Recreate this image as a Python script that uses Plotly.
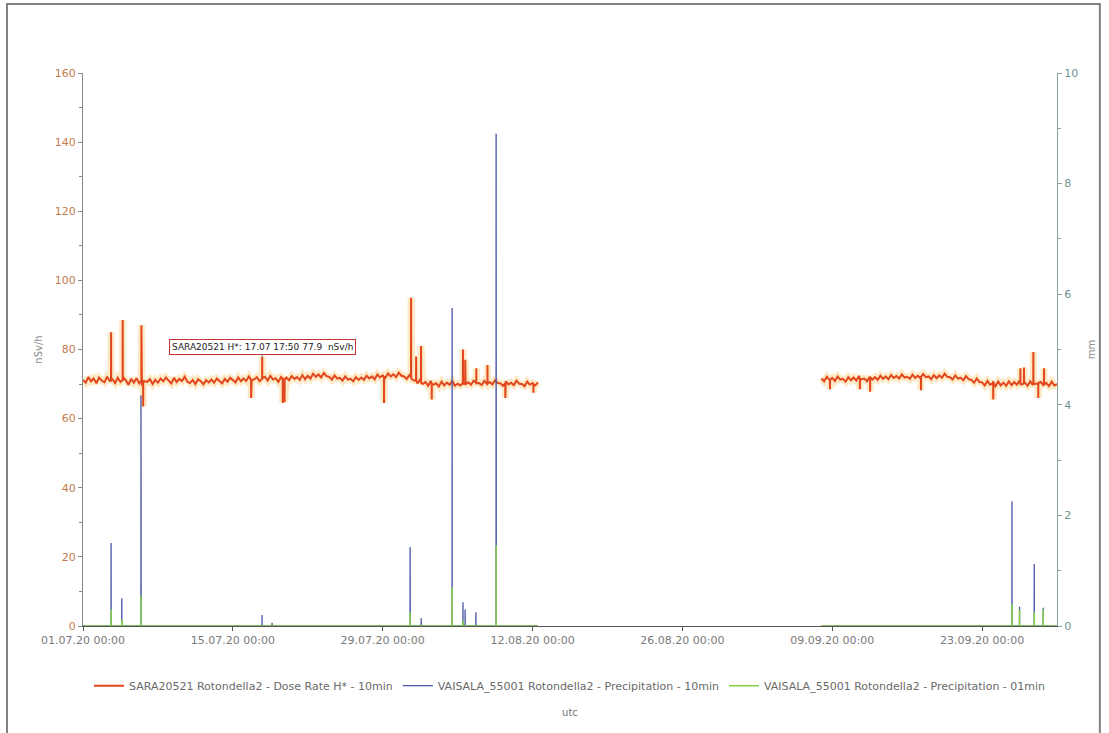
import plotly.graph_objects as go
import pandas as pd

# ---------------- data ----------------
# Dose rate H* (nSv/h), 6-hourly readings, segment 1 starts 2020-07-01 00:00
dose_seg1_start = "2020-07-01 00:00"
dose_seg1 = [
    71.2, 70.4, 72.0, 70.8,  71.6, 70.2, 71.9, 71.0,  70.5, 72.1, 70.9, 71.4,
    70.3, 71.8, 70.6, 72.0,  71.1, 69.8, 71.5, 70.4,  71.7, 70.2, 69.5, 70.8,
    70.6, 71.4, 70.0, 71.2,  70.4, 71.6, 70.8, 71.9,  71.0, 70.2, 71.8, 70.6,
    71.5, 70.9, 72.1, 70.7,  70.3, 71.2, 70.0, 71.4,  70.8, 69.9, 71.1, 70.5,
    71.3, 70.4, 71.6, 70.9,  70.2, 71.5, 70.7, 71.8,  71.2, 70.5, 71.9, 70.8,
    71.6, 70.9, 72.2, 71.0,  71.4, 72.0, 70.8, 71.7,  72.1, 71.0, 72.4, 71.3,
    71.7, 70.6, 72.0, 71.2,  71.9, 71.1, 72.3, 71.5,  72.0, 71.2, 72.6, 71.4,
    72.4, 71.6, 73.0, 72.1,  72.8, 71.9, 73.2, 72.3,  72.1, 71.3, 72.5, 71.6,
    71.8, 71.0, 72.2, 71.3,  71.5, 70.8, 72.0, 71.2,  71.9, 71.2, 72.4, 71.6,
    72.2, 71.4, 72.8, 71.9,  72.5, 71.8, 73.1, 72.2,  72.8, 72.0, 73.3, 72.4,
    72.2, 71.5, 72.6, 71.3,  71.0, 70.2, 71.4, 70.0,  70.6, 69.5, 70.9, 69.8,
    70.2, 69.3, 70.7, 69.6,  70.4, 69.8, 70.9, 69.5,  70.1, 69.6, 70.8, 69.9,
    70.5, 69.8, 71.0, 70.2,  70.3, 69.7, 70.9, 70.0,  70.6, 69.9, 71.1, 70.3,
    70.2, 69.5, 70.8, 69.9,  70.4, 69.7, 71.0, 70.1,  70.0, 69.4, 70.7, 69.8,
    70.3, 69.6, 70.5,
]
# segment 2 starts 2020-09-08 00:00
dose_seg2_start = "2020-09-08 00:00"
dose_seg2 = [
    71.6, 70.8, 72.1, 71.2,  71.8, 70.9, 72.2, 71.3,  71.5, 70.7, 72.0, 71.1,
    71.9, 71.0, 72.3, 71.4,  71.6, 70.8, 72.1, 71.3,  72.0, 71.2, 72.4, 71.5,
    72.2, 71.4, 72.6, 71.8,  72.3, 71.6, 72.8, 71.9,  72.1, 71.5, 72.7, 71.8,
    72.4, 71.7, 72.9, 72.0,  72.2, 71.4, 72.6, 71.7,  72.5, 71.8, 73.0, 72.1,
    72.0, 71.3, 72.5, 71.6,  71.8, 71.1, 72.3, 71.4,  71.2, 70.4, 71.6, 70.6,
    70.5, 69.6, 70.9, 69.8,  70.2, 69.4, 70.7, 69.6,  70.4, 69.5, 70.8, 69.7,
    70.6, 69.8, 71.0, 69.9,  70.4, 69.5, 70.8, 69.7,  70.1, 69.3, 70.6, 69.5,
    70.3, 69.4, 70.7, 69.6,  70.0,
]
# short dose-rate excursions (10-min readings incl. neighbouring readings)
dose_spike_time = [
    "2020-07-03 14:50", "2020-07-03 15:00", "2020-07-03 15:10",
    "2020-07-04 16:50", "2020-07-04 17:00", "2020-07-04 17:10",
    "2020-07-06 10:50", "2020-07-06 11:00", "2020-07-06 11:10",
    "2020-07-06 14:50", "2020-07-06 15:00", "2020-07-06 15:10",
    "2020-07-16 16:50", "2020-07-16 17:00", "2020-07-16 17:10",
    "2020-07-17 17:40", "2020-07-17 17:50", "2020-07-17 18:00",
    "2020-07-19 15:50", "2020-07-19 16:00", "2020-07-19 16:10",
    "2020-07-19 19:50", "2020-07-19 20:00", "2020-07-19 20:10",
    "2020-07-29 02:50", "2020-07-29 03:00", "2020-07-29 03:10",
    "2020-07-31 15:30", "2020-07-31 15:40", "2020-07-31 15:50",
    "2020-08-01 02:50", "2020-08-01 03:00", "2020-08-01 03:10",
    "2020-08-01 13:50", "2020-08-01 14:00", "2020-08-01 14:10",
    "2020-08-02 13:50", "2020-08-02 14:00", "2020-08-02 14:10",
    "2020-08-05 11:50", "2020-08-05 12:00", "2020-08-05 12:10",
    "2020-08-05 16:50", "2020-08-05 17:00", "2020-08-05 17:10",
    "2020-08-06 17:50", "2020-08-06 18:00", "2020-08-06 18:10",
    "2020-08-07 18:50", "2020-08-07 19:00", "2020-08-07 19:10",
    "2020-08-09 10:50", "2020-08-09 11:00", "2020-08-09 11:10",
    "2020-08-12 01:50", "2020-08-12 02:00", "2020-08-12 02:10",
    "2020-09-08 18:50", "2020-09-08 19:00", "2020-09-08 19:10",
    "2020-09-11 13:50", "2020-09-11 14:00", "2020-09-11 14:10",
    "2020-09-12 12:50", "2020-09-12 13:00", "2020-09-12 13:10",
    "2020-09-17 06:50", "2020-09-17 07:00", "2020-09-17 07:10",
    "2020-09-24 00:50", "2020-09-24 01:00", "2020-09-24 01:10",
    "2020-09-26 13:50", "2020-09-26 14:00", "2020-09-26 14:10",
    "2020-09-26 21:50", "2020-09-26 22:00", "2020-09-26 22:10",
    "2020-09-27 18:50", "2020-09-27 19:00", "2020-09-27 19:10",
    "2020-09-28 05:50", "2020-09-28 06:00", "2020-09-28 06:10",
    "2020-09-28 18:50", "2020-09-28 19:00", "2020-09-28 19:10",
]
dose_spike_val = [
    71.0, 85.0, 71.3,
    71.2, 88.5, 70.9,
    71.1, 87.0, 70.8,
    70.6, 63.5, 70.9,
    71.2, 66.0, 71.0,
    71.5, 77.9, 71.3,
    71.6, 64.5, 71.4,
    71.5, 64.8, 71.2,
    72.0, 64.5, 72.2,
    72.1, 95.0, 71.8,
    71.2, 78.0, 71.0,
    70.6, 81.0, 70.4,
    70.2, 65.5, 70.0,
    70.3, 80.0, 70.1,
    70.0, 77.0, 70.2,
    70.4, 74.6, 70.2,
    70.3, 75.5, 70.1,
    70.2, 66.0, 70.0,
    70.0, 67.5, 69.9,
    71.5, 68.5, 71.2,
    71.7, 68.5, 71.5,
    71.8, 67.8, 72.0,
    72.3, 68.2, 72.1,
    70.8, 65.5, 70.5,
    70.2, 74.6, 70.0,
    70.3, 74.8, 70.1,
    70.2, 79.3, 70.0,
    70.1, 66.0, 70.3,
    70.2, 74.6, 70.0,
]

# Precipitation 10 min (mm)
precip10_time = [
    "2020-07-01 00:00",
    "2020-07-03 14:50", "2020-07-03 15:00", "2020-07-03 15:10",
    "2020-07-04 14:50", "2020-07-04 15:00", "2020-07-04 15:10",
    "2020-07-06 09:50", "2020-07-06 10:00", "2020-07-06 10:10", "2020-07-06 10:20",
    "2020-07-17 17:20", "2020-07-17 17:30", "2020-07-17 17:40",
    "2020-07-18 15:50", "2020-07-18 16:00", "2020-07-18 16:10",
    "2020-07-31 13:20", "2020-07-31 13:30", "2020-07-31 13:40", "2020-07-31 13:50",
    "2020-08-01 14:10", "2020-08-01 14:20", "2020-08-01 14:30",
    "2020-08-04 11:30", "2020-08-04 11:40", "2020-08-04 11:50",
    "2020-08-05 11:50", "2020-08-05 12:00", "2020-08-05 12:10",
    "2020-08-05 16:40", "2020-08-05 16:50", "2020-08-05 17:00",
    "2020-08-06 16:50", "2020-08-06 17:00", "2020-08-06 17:10",
    "2020-08-08 14:10", "2020-08-08 14:20", "2020-08-08 14:30", "2020-08-08 14:40",
    "2020-08-12 12:00",
    "2020-08-25 00:00",
    "2020-09-08 00:00",
    "2020-09-25 18:50", "2020-09-25 19:00", "2020-09-25 19:10",
    "2020-09-26 11:50", "2020-09-26 12:00", "2020-09-26 12:10",
    "2020-09-27 20:50", "2020-09-27 21:00", "2020-09-27 21:10",
    "2020-09-28 16:50", "2020-09-28 17:00", "2020-09-28 17:10",
    "2020-09-30 00:00",
]
precip10_mm = [
    0,
    0, 1.5, 0,
    0, 0.5, 0,
    0, 4.17, 2.1, 0,
    0, 0.2, 0,
    0, 0.06, 0,
    0, 1.43, 0.83, 0,
    0, 0.14, 0,
    0, 5.75, 0,
    0, 0.43, 0,
    0, 0.3, 0,
    0, 0.25, 0,
    0, 8.9, 6.7, 0,
    0,
    None,
    0,
    0, 2.25, 0,
    0, 0.35, 0,
    0, 1.12, 0,
    0, 0.33, 0,
    0,
]

# Precipitation 01 min (mm)
precip01_time = [
    "2020-07-01 00:00",
    "2020-07-03 15:01", "2020-07-03 15:02", "2020-07-03 15:03",
    "2020-07-04 15:02", "2020-07-04 15:03", "2020-07-04 15:04",
    "2020-07-06 10:04", "2020-07-06 10:05", "2020-07-06 10:06",
    "2020-07-31 13:32", "2020-07-31 13:33", "2020-07-31 13:34",
    "2020-08-04 11:43", "2020-08-04 11:44", "2020-08-04 11:45",
    "2020-08-05 12:03", "2020-08-05 12:04", "2020-08-05 12:05",
    "2020-08-08 14:23", "2020-08-08 14:24", "2020-08-08 14:25",
    "2020-08-12 12:00",
    "2020-08-25 00:00",
    "2020-09-08 00:00",
    "2020-09-25 19:03", "2020-09-25 19:04", "2020-09-25 19:05",
    "2020-09-26 12:03", "2020-09-26 12:04", "2020-09-26 12:05",
    "2020-09-27 21:03", "2020-09-27 21:04", "2020-09-27 21:05",
    "2020-09-28 17:03", "2020-09-28 17:04", "2020-09-28 17:05",
    "2020-09-30 00:00",
]
precip01_mm = [
    0,
    0, 0.3, 0,
    0, 0.12, 0,
    0, 0.55, 0,
    0, 0.25, 0,
    0, 0.7, 0,
    0, 0.1, 0,
    0, 1.46, 0,
    0,
    None,
    0,
    0, 0.4, 0,
    0, 0.3, 0,
    0, 0.25, 0,
    0, 0.3, 0,
    0,
]

series_names = [
    "SARA20521 Rotondella2 - Dose Rate H* - 10min",
    "VAISALA_55001 Rotondella2 - Precipitation - 10min",
    "VAISALA_55001 Rotondella2 - Precipitation - 01min",
]
x_range = ["2020-07-01 00:00", "2020-09-30 00:00"]
annot_time = "2020-07-17 17:50"
annot_val = 77.9
annot_text = "SARA20521 H*: 17.07 17:50 77.9\u00a0\u00a0nSv/h"

# ---------------- build dose series ----------------
t1 = pd.date_range(dose_seg1_start, periods=len(dose_seg1), freq="6h")
t2 = pd.date_range(dose_seg2_start, periods=len(dose_seg2), freq="6h")
df = pd.concat([
    pd.DataFrame({"t": t1, "v": dose_seg1}),
    pd.DataFrame({"t": t2, "v": dose_seg2}),
    pd.DataFrame({"t": pd.to_datetime(dose_spike_time), "v": dose_spike_val}),
]).sort_values("t").reset_index(drop=True)
gap = pd.DataFrame({"t": [pd.Timestamp("2020-08-25")], "v": [None]})
df = pd.concat([df, gap]).sort_values("t").reset_index(drop=True)

FONT = "DejaVu Sans"
C_DOSE = "#e2461c"
C_P10 = "#4a55a8"
C_P01 = "#86d24a"

fig = go.Figure()
fig.add_trace(go.Scatter(x=df["t"], y=df["v"], mode="lines",
                         line=dict(color="rgba(250,200,110,0.4)", width=7),
                         showlegend=False, hoverinfo="skip", yaxis="y",
                         connectgaps=False))
fig.add_trace(go.Scatter(x=df["t"], y=df["v"], mode="lines", name=series_names[0],
                         line=dict(color=C_DOSE, width=2), yaxis="y",
                         connectgaps=False))
fig.add_trace(go.Scatter(x=pd.to_datetime(precip10_time), y=precip10_mm, mode="lines",
                         name=series_names[1], line=dict(color=C_P10, width=1.3),
                         yaxis="y2", connectgaps=False))
fig.add_trace(go.Scatter(x=pd.to_datetime(precip01_time), y=precip01_mm, mode="lines",
                         name=series_names[2], line=dict(color=C_P01, width=1.5),
                         yaxis="y2", connectgaps=False))

fig.update_layout(
    width=1109, height=733,
    margin=dict(l=83, r=52, t=73, b=107, autoexpand=False),
    paper_bgcolor="white", plot_bgcolor="white",
    font=dict(family=FONT, size=11, color="#777"),
    xaxis=dict(
        type="date", range=x_range,
        tick0="2020-07-01", dtick=14 * 86400000,
        tickformat="%d.%m.%y %H:%M",
        showgrid=False, zeroline=False,
        showline=True, linecolor="#555", linewidth=1,
        ticks="outside", ticklen=4, tickcolor="#555",
        tickfont=dict(size=11, color="#7a7a7a"),
        title=dict(text="utc", standoff=62, font=dict(size=10, color="#777")),
        automargin=False, layer="below traces",
    ),
    yaxis=dict(
        range=[0, 160], dtick=20, showgrid=False, zeroline=False,
        showline=True, linecolor="#8a8a8a", linewidth=1,
        ticks="outside", ticklen=4, tickcolor="#8a8a8a",
        minor=dict(dtick=10, ticks="outside", ticklen=3, tickcolor="#8a8a8a"),
        tickfont=dict(size=11, color="#c47a4e"),
        title=dict(text="nSv/h", standoff=10, font=dict(size=10, color="#888")),
        automargin=False,
    ),
    yaxis2=dict(
        range=[0, 10], dtick=2, overlaying="y", side="right",
        showgrid=False, zeroline=False,
        showline=True, linecolor="#8aa0a0", linewidth=1,
        ticks="outside", ticklen=4, tickcolor="#8aa0a0",
        minor=dict(dtick=1, ticks="outside", ticklen=3, tickcolor="#8aa0a0"),
        tickfont=dict(size=11, color="#6e9494"),
        title=dict(text="mm", standoff=10, font=dict(size=10, color="#888")),
        automargin=False,
    ),
    legend=dict(orientation="h", x=0.5, xanchor="center", y=-0.108, yanchor="middle",
                font=dict(size=11, color="#6a6a6a", family=FONT),
                itemwidth=30, bgcolor="rgba(0,0,0,0)", tracegroupgap=0,
                traceorder="normal"),
    showlegend=True,
    annotations=[dict(
        x=annot_time, y=annot_val, xref="x", yref="y",
        text=annot_text, showarrow=True, arrowhead=0, arrowwidth=1,
        arrowcolor="#666", ax=0, ay=-10,
        font=dict(size=9, color="#222", family=FONT),
        bgcolor="white", bordercolor="#c83030", borderwidth=1, borderpad=2,
    )],
    shapes=[dict(type="rect", xref="paper", yref="paper",
                 x0=-0.078, x1=1.044, y0=-0.25, y1=1.125,
                 line=dict(color="#808080", width=2), fillcolor="rgba(0,0,0,0)",
                 layer="below")],
)

fig.write_html("out.html", config={"displayModeBar": False},
               post_script="document.body.style.margin='0';document.body.style.padding='0';")
